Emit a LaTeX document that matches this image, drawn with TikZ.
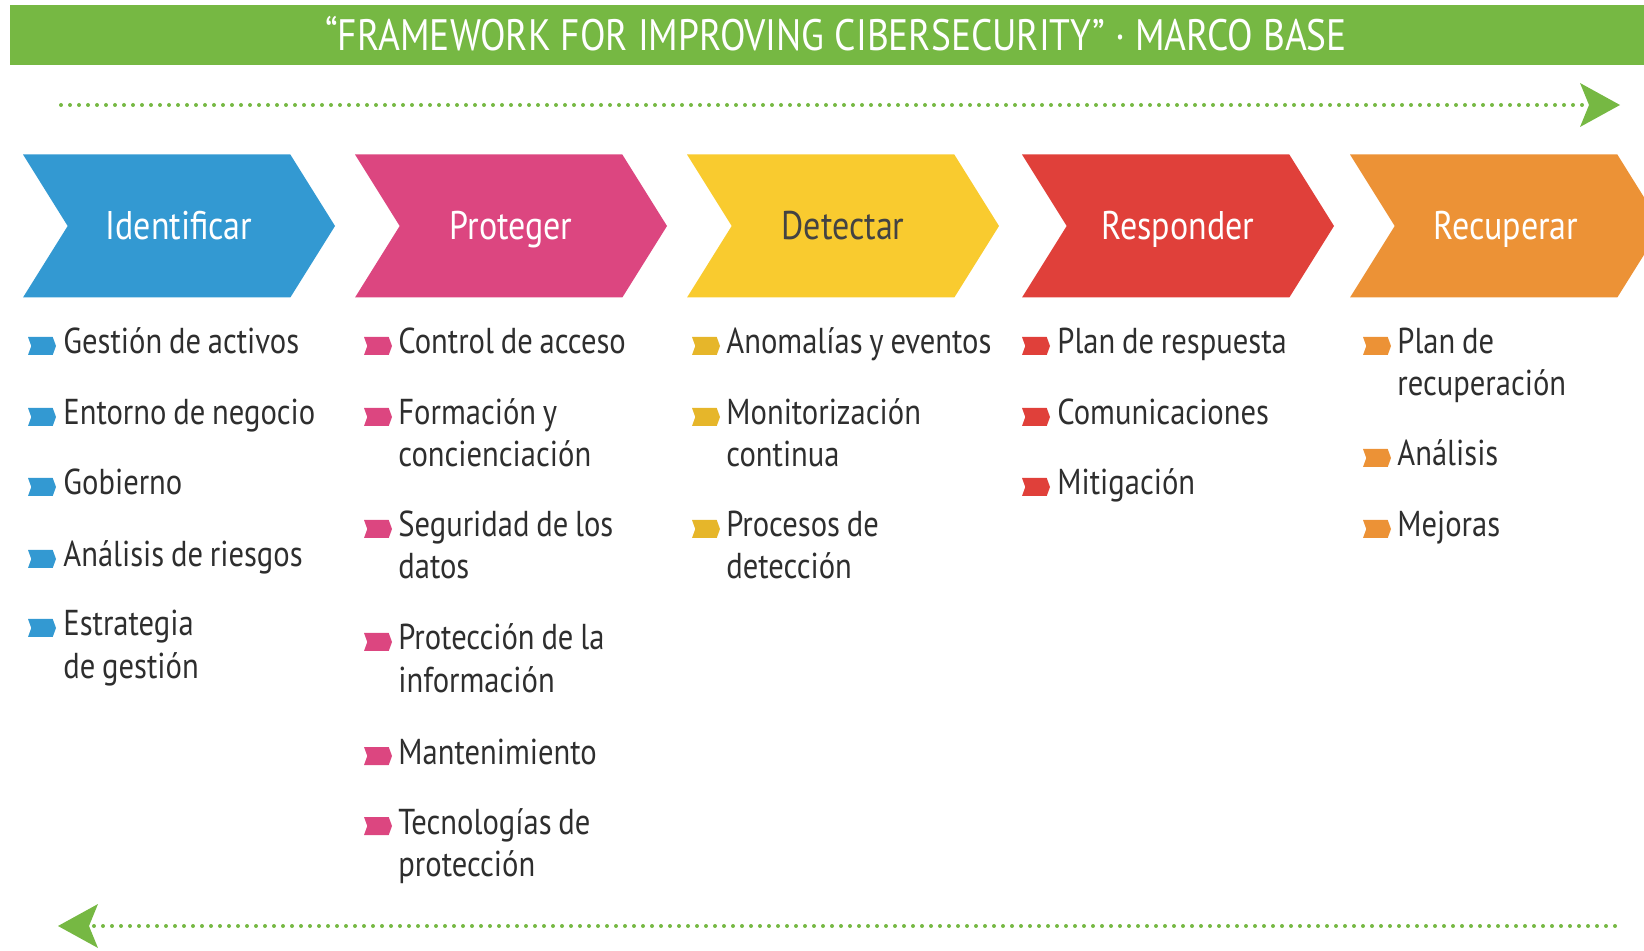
\documentclass[tikz,border=0pt]{standalone}
\usepackage{fontspec}
\setmainfont{PT Sans}[FakeStretch=0.85]
\usetikzlibrary{shapes.symbols,arrows.meta}
\definecolor{idblue}{HTML}{3399D2}
\definecolor{prpink}{HTML}{DC4680}
\definecolor{deyellow}{HTML}{F9CB2F}
\definecolor{deyellowdark}{HTML}{E6B62A}
\definecolor{rered}{HTML}{E0403A}
\definecolor{rcorange}{HTML}{EC9236}
\definecolor{fwgreen}{HTML}{76B843}
\definecolor{itemgray}{HTML}{2E2E2E}
\newcommand{\itemspacing}{\spaceskip=3.4pt plus 1pt minus 0.5pt\relax}
\begin{document}
\begin{tikzpicture}[x=0.5pt, y=-0.5pt,
  banner/.style={rectangle, fill=fwgreen, minimum width=826pt, minimum height=30pt, inner sep=0pt, text height=15.5pt, text depth=0pt, font=\fontsize{22}{26}\selectfont, text=white},
  phase/.style={signal, signal to=east, signal from=west, signal pointer angle=116, minimum width=156pt, minimum height=71.5pt, inner sep=0pt, text height=14pt, text depth=0pt, font=\fontsize{20}{24}\selectfont, text=white},
  bullet/.style={signal, signal to=east, signal from=west, signal pointer angle=140, minimum width=14pt, minimum height=9pt, inner sep=0pt},
  item/.style={anchor=base west, inner sep=0pt, text width=160pt, align=left, font=\fontsize{18}{21}\selectfont, execute at begin node=\itemspacing, text=itemgray},
  flow/.style={draw=fwgreen, line width=2pt, line cap=round, dash pattern=on 0pt off 4.5pt, -{Stealth[length=20pt, width=22pt, inset=4.5pt, line width'=0pt]}}]
\useasboundingbox (0,0) rectangle (1644,951);
\clip (0,0) rectangle (1644,951);
% title bar
\node[banner] (title) at (836,35) {“FRAMEWORK FOR IMPROVING CIBERSECURITY” · MARCO BASE};
% dotted arrows
\coordinate (fwd0) at (61,105);
\coordinate (fwd1) at (1620,105);
\coordinate (bck0) at (1615,926);
\coordinate (bck1) at (58,926);
\draw[flow] (fwd0) -- (fwd1);
\draw[flow] (bck0) -- (bck1);
% phases
\node[phase, fill=idblue] (P1) at (179,226) {Identificar};
\node[phase, fill=prpink] (P2) at (511,226) {Proteger};
\node[phase, fill=deyellow, text=itemgray!90] (P3) at (843,226) {Detectar};
\node[phase, fill=rered] (P4) at (1178,226) {Responder};
\node[phase, fill=rcorange] (P5) at (1506,226) {Recuperar};
% Identificar
\node[bullet, fill=idblue] (b11) at (42,346) {};
\node[item] (t11) at (63,354) {Gestión de activos};
\node[bullet, fill=idblue] (b12) at (42,417) {};
\node[item] (t12) at (63,425) {Entorno de negocio};
\node[bullet, fill=idblue] (b13) at (42,487) {};
\node[item] (t13) at (63,495) {Gobierno};
\node[bullet, fill=idblue] (b14) at (42,559) {};
\node[item] (t14) at (63,567) {Análisis de riesgos};
\node[bullet, fill=idblue] (b15) at (42,628) {};
\node[item] (t15) at (63,636) {Estrategia\\de gestión};
% Proteger
\node[bullet, fill=prpink] (b21) at (378,346) {};
\node[item] (t21) at (398,354) {Control de acceso};
\node[bullet, fill=prpink] (b22) at (378,417) {};
\node[item] (t22) at (398,425) {Formación y\\concienciación};
\node[bullet, fill=prpink] (b23) at (378,529) {};
\node[item] (t23) at (398,537) {Seguridad de los\\datos};
\node[bullet, fill=prpink] (b24) at (378,642) {};
\node[item] (t24) at (398,650) {Protección de la\\información};
\node[bullet, fill=prpink] (b25) at (378,756) {};
\node[item] (t25) at (398,764) {Mantenimiento};
\node[bullet, fill=prpink] (b26) at (378,826) {};
\node[item] (t26) at (398,834) {Tecnologías de\\protección};
% Detectar
\node[bullet, fill=deyellowdark] (b31) at (706,346) {};
\node[item] (t31) at (726,354) {Anomalías y eventos};
\node[bullet, fill=deyellowdark] (b32) at (706,417) {};
\node[item] (t32) at (726,425) {Monitorización\\continua};
\node[bullet, fill=deyellowdark] (b33) at (706,529) {};
\node[item] (t33) at (726,537) {Procesos de\\detección};
% Responder
\node[bullet, fill=rered] (b41) at (1036,346) {};
\node[item] (t41) at (1057,354) {Plan de respuesta};
\node[bullet, fill=rered] (b42) at (1036,417) {};
\node[item] (t42) at (1057,425) {Comunicaciones};
\node[bullet, fill=rered] (b43) at (1036,487) {};
\node[item] (t43) at (1057,495) {Mitigación};
% Recuperar
\node[bullet, fill=rcorange] (b51) at (1377,346) {};
\node[item] (t51) at (1397,354) {Plan de\\recuperación};
\node[bullet, fill=rcorange] (b52) at (1377,458) {};
\node[item] (t52) at (1397,466) {Análisis};
\node[bullet, fill=rcorange] (b53) at (1377,529) {};
\node[item] (t53) at (1397,537) {Mejoras};
\end{tikzpicture}
\end{document}
